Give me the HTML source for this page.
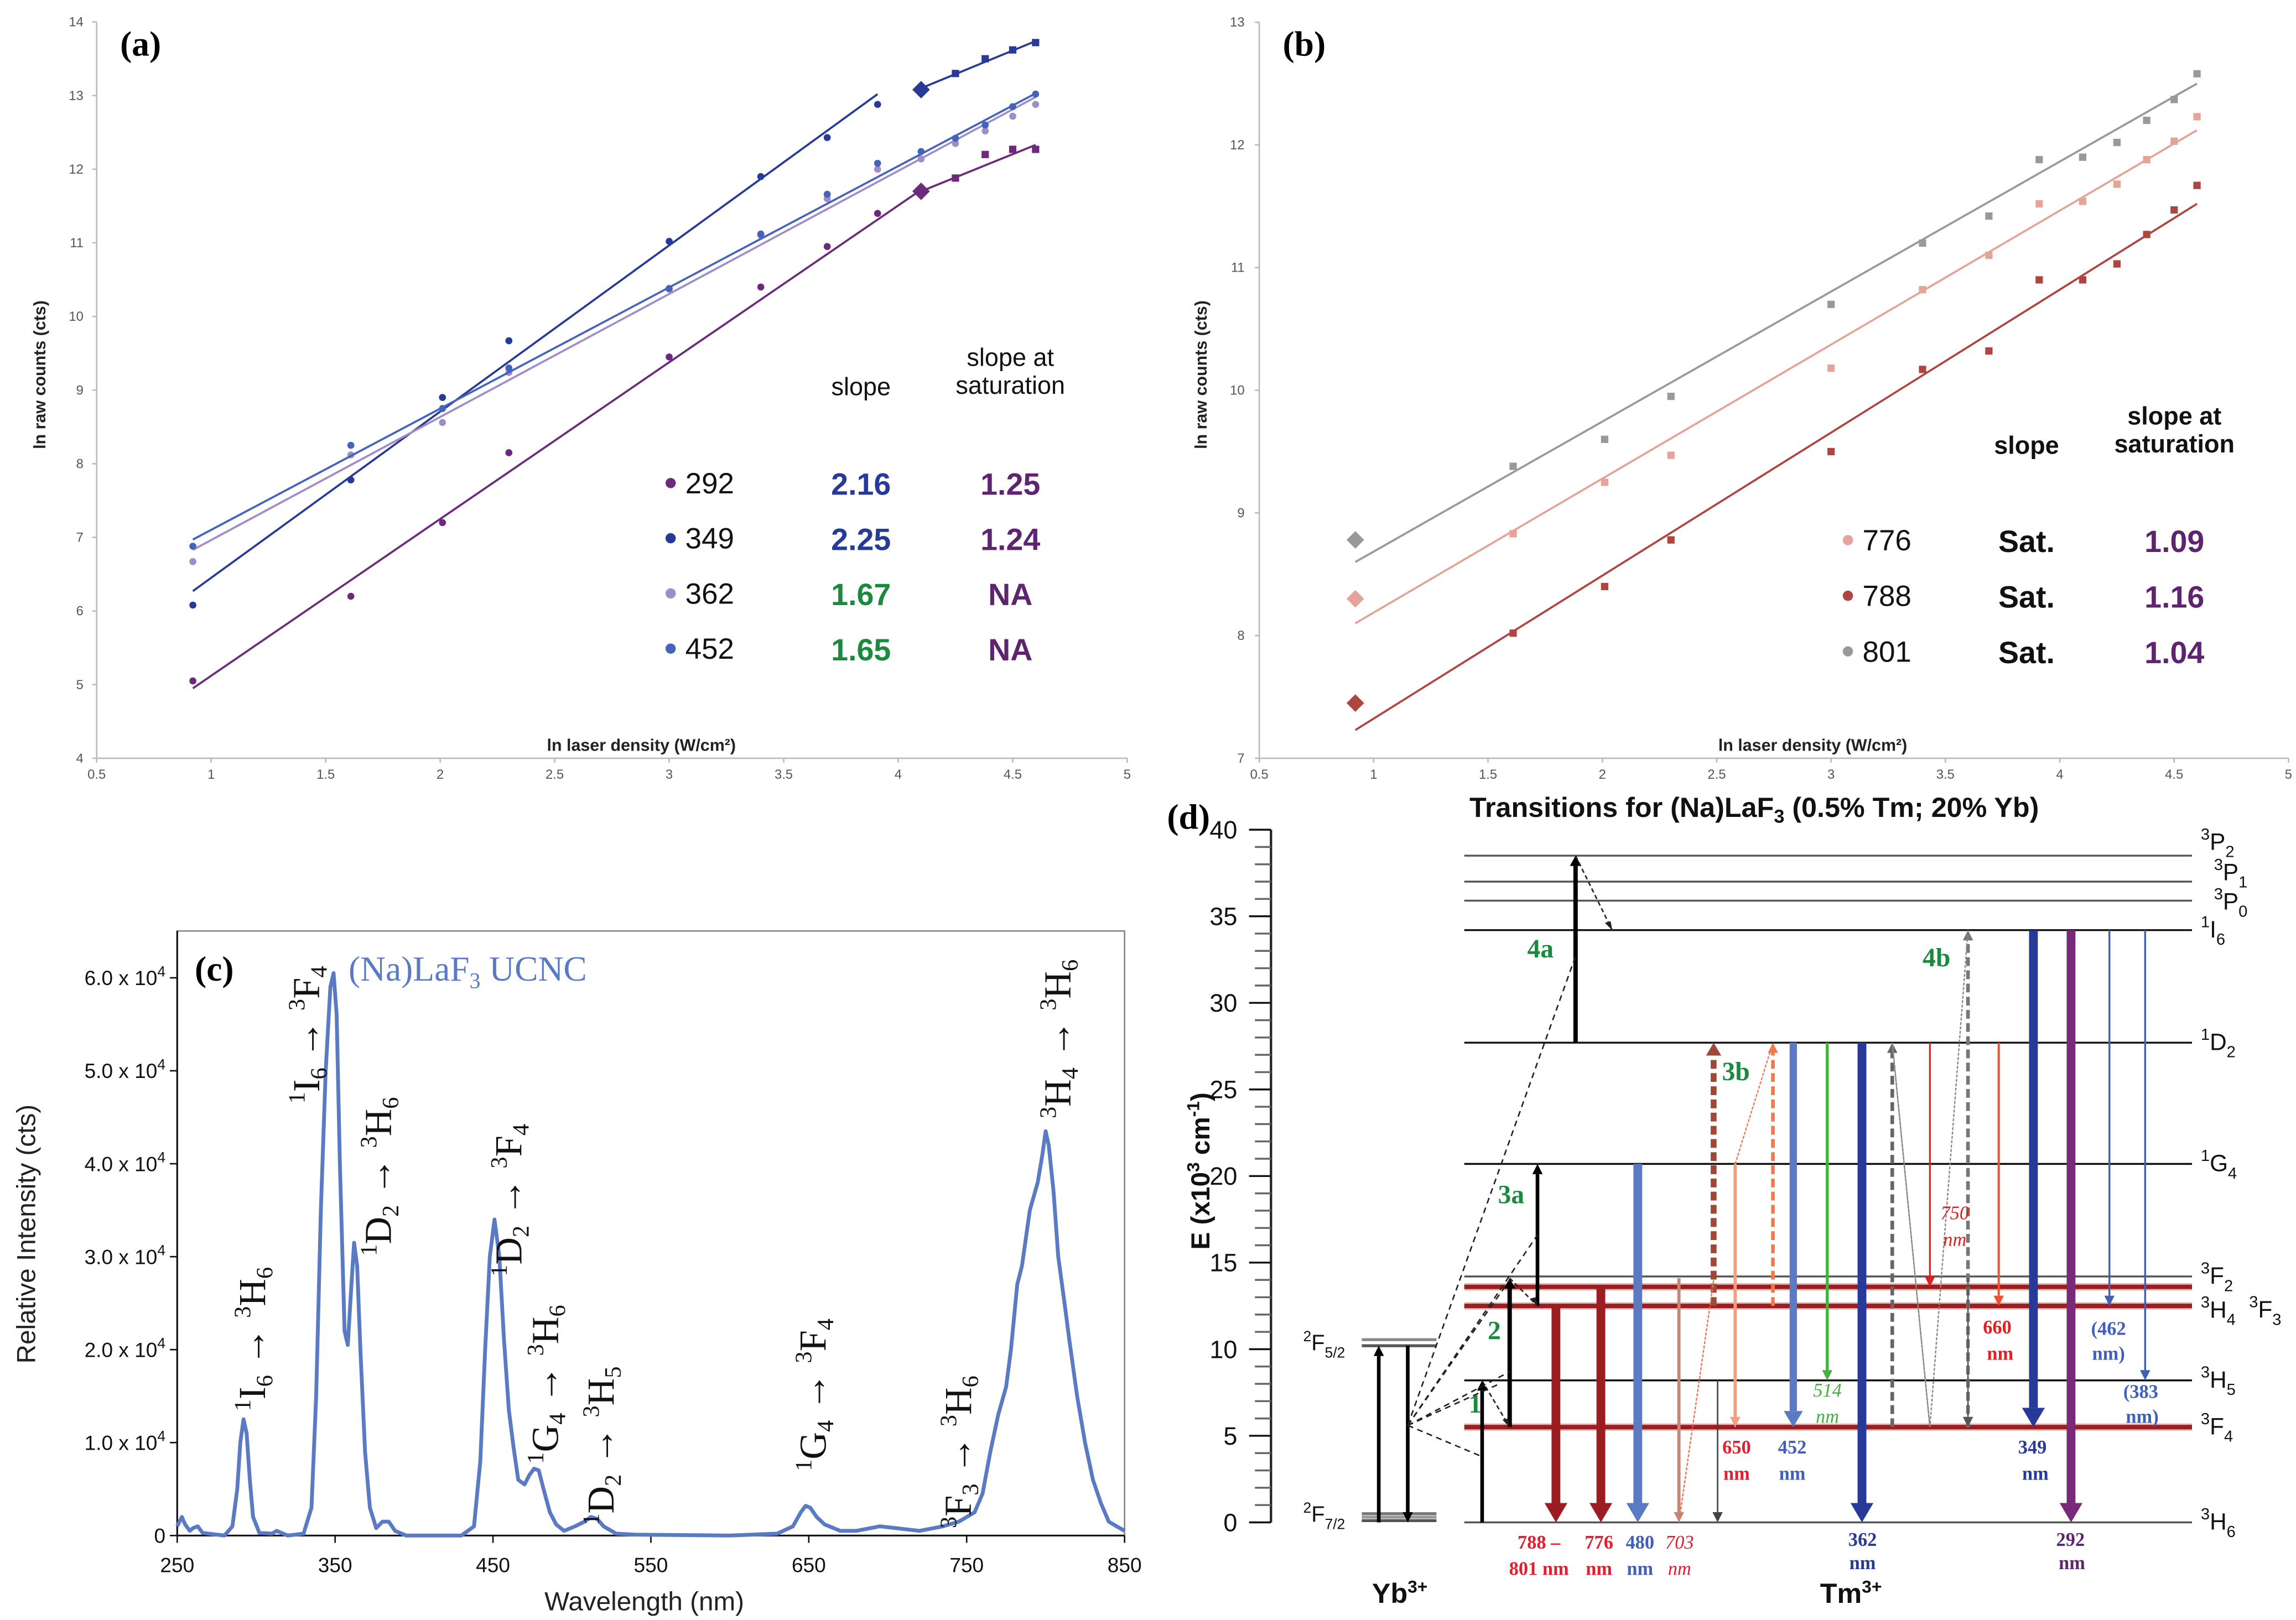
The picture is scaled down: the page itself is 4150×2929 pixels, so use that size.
<!DOCTYPE html>
<html><head><meta charset="utf-8"><style>
html,body{margin:0;padding:0;background:#fff;}
svg{display:block;}
</style></head><body>
<svg id="fig" width="4150" height="2929" viewBox="0 0 1568 1106.7" xmlns="http://www.w3.org/2000/svg" font-family="Liberation Sans, DejaVu Sans, sans-serif">
<rect x="0" y="0" width="1568" height="1107" fill="#fff"/>
<g id="pa"></g>
<g id="pb"></g>
<g id="pc"></g>
<g id="pd"></g>
</svg>
<script>
// ---------- Panel (a) data ----------
const aX = [0.92,1.61,2.01,2.3,3,3.4,3.69,3.91,4.1,4.25,4.38,4.5,4.6];
const a292 = [5.05,6.2,7.2,8.15,9.45,10.4,10.95,11.4,11.7,11.88,12.2,12.27,12.27];
const a349 = [6.08,7.78,8.9,9.67,11.02,11.9,12.43,12.88,13.08,13.3,13.5,13.62,13.72];
const a362 = [6.67,8.12,8.56,9.24,10.37,11.1,11.6,12.0,12.14,12.35,12.52,12.72,12.88];
const a452 = [6.88,8.25,8.75,9.3,10.38,11.12,11.66,12.08,12.24,12.42,12.6,12.85,13.02];
const aFit292 = [[0.92,4.95],[4.1,11.72]];
const aSat292 = [[4.1,11.7],[4.6,12.33]];
const aFit349 = [[0.92,6.27],[3.91,13.02]];
const aSat349 = [[4.1,13.1],[4.6,13.74]];
const aFit362 = [[0.92,6.83],[4.6,12.98]];
const aFit452 = [[0.92,6.97],[4.6,13.03]];
const aLegendNames = ["292","349","362","452"];
const aSlopes = ["2.16","2.25","1.67","1.65"];
const aSatSlopes = ["1.25","1.24","NA","NA"];
const aXTicks = [0.5,1,1.5,2,2.5,3,3.5,4,4.5,5];
const aYTicks = [4,5,6,7,8,9,10,11,12,13,14];
// ---------- Panel (b) data ----------
const bX = [0.92,1.61,2.01,2.3,3,3.4,3.69,3.91,4.1,4.25,4.38,4.5,4.6];
const b801 = [8.78,9.38,9.6,9.95,10.7,11.2,11.42,11.88,11.9,12.02,12.2,12.37,12.58];
const b776 = [8.3,8.83,9.25,9.47,10.18,10.82,11.1,11.52,11.54,11.68,11.88,12.03,12.23];
const b788 = [7.45,8.02,8.4,8.78,9.5,10.17,10.32,10.9,10.9,11.03,11.27,11.47,11.67];
const bFit801 = [[0.92,8.6],[4.6,12.5]];
const bFit776 = [[0.92,8.1],[4.6,12.12]];
const bFit788 = [[0.92,7.23],[4.6,11.52]];
const bLegendNames = ["776","788","801"];
const bSlopes = ["Sat.","Sat.","Sat."];
const bSatSlopes = ["1.09","1.16","1.04"];
const bXTicks = [0.5,1,1.5,2,2.5,3,3.5,4,4.5,5];
const bYTicks = [7,8,9,10,11,12,13];
// ---------- Panel (c) data ----------
const cWl = [250,253,255,258,260,263,266,270,280,285,288,290,292,294,296,298,302,310,313,320,330,335,338,341,344,347,349,351,353,356,358,360,362,364,366,369,372,376,380,384,388,395,430,438,442,445,448,451,454,457,460,463,466,470,473,476,479,482,486,490,495,502,508,512,516,520,528,540,600,630,640,645,648,651,655,660,670,680,695,705,720,735,745,750,755,760,765,770,775,778,782,785,790,795,798,800,802,805,808,812,815,820,825,830,835,840,845,850];
const cInt = [0.1,0.2,0.12,0.05,0.08,0.1,0.03,0.02,0.0,0.1,0.5,1.0,1.25,1.1,0.6,0.2,0.03,0.02,0.05,0.0,0.02,0.3,1.5,3.5,5.0,5.9,6.05,5.6,4.0,2.2,2.05,2.6,3.15,2.9,2.0,0.9,0.3,0.08,0.15,0.15,0.05,0.0,0.0,0.1,0.8,2.0,3.0,3.4,3.0,2.1,1.35,0.95,0.6,0.55,0.65,0.72,0.7,0.5,0.25,0.12,0.05,0.1,0.15,0.2,0.18,0.1,0.02,0.01,0.0,0.02,0.1,0.25,0.32,0.3,0.2,0.12,0.05,0.05,0.1,0.08,0.05,0.1,0.15,0.2,0.25,0.45,0.9,1.3,1.6,2.0,2.7,2.9,3.5,3.8,4.1,4.35,4.2,3.7,3.0,2.5,2.1,1.5,1.0,0.6,0.35,0.15,0.1,0.05];
const cXTicks = [250,350,450,550,650,750,850];
const cYTicks = [0,1,2,3,4,5,6];
// ---------- Panel (d) data ----------
const dLevelE = [38.5,37.0,35.9,34.2,27.7,20.7,14.2,13.6,12.5,8.2,5.5,0];
const dLevelNames = ["3P2","3P1","3P0","1I6","1D2","1G4","3F2","3F3","3H4","3H5","3F4","3H6"];
const dYTicks = [0,5,10,15,20,25,30,35,40];

const NS="http://www.w3.org/2000/svg";
function el(tag, parent, attrs){const e=document.createElementNS(NS,tag);for(const k in attrs)e.setAttribute(k,attrs[k]);parent.appendChild(e);return e;}
function txt(parent, x, y, s, attrs){const t=el('text',parent,Object.assign({x:x,y:y},attrs||{}));t.textContent=s;return t;}

// ===== Panel (a) =====
(function(){
const g=document.getElementById('pa');
const X=v=>66+(v-0.5)*156.4, Y=v=>518-(v-4)*50.3;
const ax=el('path',g,{d:`M66,15 V518 H770`,stroke:'#bbb','stroke-width':1,fill:'none'});


aXTicks.forEach(v=>{const t=txt(g,X(v),532,String(v),{'font-size':9,fill:'#555','text-anchor':'middle'});


el('line',g,{x1:X(v),x2:X(v),y1:518,y2:521,stroke:'#bbb'});});
aYTicks.forEach(v=>{const t=txt(g,57,Y(v)+3,String(v),{'font-size':9,fill:'#555','text-anchor':'end'});


el('line',g,{x1:63,x2:66,y1:Y(v),y2:Y(v),stroke:'#bbb'});});
let t=txt(g,0,0,'ln raw counts (cts)',{'font-size':11.5,'font-weight':'bold',fill:'#222','text-anchor':'middle',transform:'translate(31,256) rotate(-90)'});


t=txt(g,438,513,'ln laser density (W/cm²)',{'font-size':11.5,'font-weight':'bold',fill:'#222','text-anchor':'middle'});


t=txt(g,82,38,'(a)',{'font-size':24,'font-weight':'bold','font-family':'Liberation Serif, serif'});


const series=[[a292,'#6d2a7d',aFit292,aSat292],[a349,'#283a98',aFit349,aSat349],[a362,'#a08cc8',aFit362,null],[a452,'#4563bb',aFit452,null]];
series.forEach((s,i)=>{
 [s[2],s[3]].forEach(f=>{if(!f)return;const l=el('line',g,{x1:X(f[0][0]),y1:Y(f[0][1]),x2:X(f[1][0]),y2:Y(f[1][1]),stroke:s[1],'stroke-width':1.4});
 
 });
 s[0].forEach((v,j)=>{let m;const sat=(i<2&&aX[j]>=4.1);
  if(sat&&aX[j]===4.1){m=el('path',g,{d:`M${X(aX[j])},${Y(v)-6} l6,6 l-6,6 l-6,-6z`,fill:s[1]});}
  else if(sat){m=el('rect',g,{x:X(aX[j])-2.5,y:Y(v)-2.5,width:5,height:5,fill:s[1]});}
  else{m=el('circle',g,{cx:X(aX[j]),cy:Y(v),r:2.4,fill:s[1]});}
  
  });
});
t=txt(g,588,270,'slope',{'font-size':17,'text-anchor':'middle',fill:'#111'});


t=txt(g,690,250,'slope at',{'font-size':17,'text-anchor':'middle',fill:'#111'});


txt(g,690,269,'saturation',{'font-size':17,'text-anchor':'middle',fill:'#111'});
const slopeCol=['#283a98','#283a98','#1a8a3e','#1a8a3e'];
aLegendNames.forEach((n,i)=>{const y=330+i*37.7;
 const c=el('circle',g,{cx:458,cy:y,r:3.5,fill:series[i][1]});
 
 
 let tt=txt(g,468,y+7,n,{'font-size':20,fill:'#111'});
 
 
 tt=txt(g,588,y+8,aSlopes[i],{'font-size':21,'font-weight':'bold','text-anchor':'middle',fill:slopeCol[i]});
 
 
 tt=txt(g,690,y+8,aSatSlopes[i],{'font-size':21,'font-weight':'bold','text-anchor':'middle',fill:'#5e2470'});
 
 });
})();

// ===== Panel (b) =====
(function(){
const g=document.getElementById('pb');
const X=v=>860+(v-0.5)*156.2, Y=v=>518-(v-7)*83.8;
const ax=el('path',g,{d:`M860,15 V518 H1563`,stroke:'#bbb','stroke-width':1,fill:'none'});


bXTicks.forEach(v=>{const t=txt(g,X(v),532,String(v),{'font-size':9,fill:'#555','text-anchor':'middle'});


el('line',g,{x1:X(v),x2:X(v),y1:518,y2:521,stroke:'#bbb'});});
bYTicks.forEach(v=>{const t=txt(g,850,Y(v)+3,String(v),{'font-size':9,fill:'#555','text-anchor':'end'});


el('line',g,{x1:857,x2:860,y1:Y(v),y2:Y(v),stroke:'#bbb'});});
let t=txt(g,0,0,'ln raw counts (cts)',{'font-size':11.5,'font-weight':'bold',fill:'#222','text-anchor':'middle',transform:'translate(824,256) rotate(-90)'});


t=txt(g,1238,513,'ln laser density (W/cm²)',{'font-size':11.5,'font-weight':'bold',fill:'#222','text-anchor':'middle'});


t=txt(g,876,38,'(b)',{'font-size':24,'font-weight':'bold','font-family':'Liberation Serif, serif'});


const series=[[b776,'#e6a39a',bFit776],[b788,'#ad4540',bFit788],[b801,'#999999',bFit801]];
series.forEach((s,i)=>{
 const f=s[2];const l=el('line',g,{x1:X(f[0][0]),y1:Y(f[0][1]),x2:X(f[1][0]),y2:Y(f[1][1]),stroke:s[1],'stroke-width':1.4});
 
 
 s[0].forEach((v,j)=>{let m;
  if(j===0){m=el('path',g,{d:`M${X(bX[j])},${Y(v)-6} l6,6 l-6,6 l-6,-6z`,fill:s[1]});}
  else{m=el('rect',g,{x:X(bX[j])-2.5,y:Y(v)-2.5,width:5,height:5,fill:s[1]});}
  
  });
});
t=txt(g,1384,310,'slope',{'font-size':17,'font-weight':'bold','text-anchor':'middle',fill:'#111'});


t=txt(g,1485,290,'slope at',{'font-size':17,'font-weight':'bold','text-anchor':'middle',fill:'#111'});


txt(g,1485,309,'saturation',{'font-size':17,'font-weight':'bold','text-anchor':'middle',fill:'#111'});
bLegendNames.forEach((n,i)=>{const y=369+i*38;
 const c=el('circle',g,{cx:1262,cy:y,r:3.5,fill:series[i][1]});
 
 
 let tt=txt(g,1272,y+7,n,{'font-size':20,fill:'#111'});
 
 
 tt=txt(g,1384,y+8,bSlopes[i],{'font-size':21,'font-weight':'bold','text-anchor':'middle',fill:'#111'});
 
 
 tt=txt(g,1485,y+8,bSatSlopes[i],{'font-size':21,'font-weight':'bold','text-anchor':'middle',fill:'#5e2470'});
 
 });
})();

// ===== Panel (c) =====
(function(){
const g=document.getElementById('pc');
const X=v=>121+(v-250)*(647/600), Y=v=>1049-v*63.5;
const box=el('rect',g,{x:121,y:636,width:647,height:413,fill:'none',stroke:'#888','stroke-width':1});


el('line',g,{x1:121,x2:768,y1:1049,y2:1049,stroke:'#111','stroke-width':1.2});
el('line',g,{x1:121,x2:121,y1:636,y2:1049,stroke:'#111','stroke-width':1.2});
cXTicks.forEach(v=>{el('line',g,{x1:X(v),x2:X(v),y1:1049,y2:1054,stroke:'#111'});
 const t=txt(g,X(v),1074,String(v),{'font-size':14,fill:'#111','text-anchor':'middle'});
 
 });
cYTicks.forEach(v=>{el('line',g,{x1:116,x2:121,y1:Y(v),y2:Y(v),stroke:'#111'});
 const t=el('text',g,{x:113,y:Y(v)+5,'font-size':14,fill:'#111','text-anchor':'end'});
 
 
 if(v===0){t.textContent='0';}else{t.textContent=v.toFixed(1)+' x 10';const s=el('tspan',t,{dy:-6,'font-size':10});s.textContent='4';}});
let t=txt(g,440,1100,'Wavelength (nm)',{'font-size':18,fill:'#222','text-anchor':'middle'});


t=txt(g,0,0,'Relative Intensity (cts)',{'font-size':18,fill:'#222','text-anchor':'middle',transform:'translate(24,843) rotate(-90)'});


let d='';cWl.forEach((w,i)=>{d+=(i?'L':'M')+X(w).toFixed(1)+','+Y(cInt[i]).toFixed(1);});
const p=el('path',g,{d:d,fill:'none',stroke:'#5a7bc4','stroke-width':2.6,'stroke-linejoin':'round'});


t=txt(g,133,670,'(c)',{'font-size':24,'font-weight':'bold','font-family':'Liberation Serif, serif'});


t=el('text',g,{x:238,y:670,'font-size':24,fill:'#5a7bc4','font-family':'Liberation Serif, serif'});


t.innerHTML='(Na)LaF<tspan dy="5" font-size="15">3</tspan><tspan dy="-5"> UCNC</tspan>';
const labels=[[181,964,'1','I','6','3','H','6'],[218,754,'1','I','6','3','F','4'],[267,858,'1','D','2','3','H','6'],[356,872,'1','D','2','3','F','4'],[381,1000,'1','G','4','3','H','6'],[419,1042,'1','D','2','3','H','5'],[564,1005,'1','G','4','3','F','4'],[663,1044,'3','F','3','3','H','6'],[731,764,'3','H','4','3','H','6']];
labels.forEach(L=>{const tt=el('text',g,{x:0,y:0,'font-size':26,fill:'#111','font-family':'Liberation Serif, serif',transform:`translate(${L[0]},${L[1]}) rotate(-90)`});
 
 
 tt.innerHTML=`<tspan dy="-10" font-size="16">${L[2]}</tspan><tspan dy="10">${L[3]}</tspan><tspan dy="5" font-size="16">${L[4]}</tspan><tspan dy="-5"> → </tspan><tspan dy="-10" font-size="16">${L[5]}</tspan><tspan dy="10">${L[6]}</tspan><tspan dy="5" font-size="16">${L[7]}</tspan>`;});
})();

// ===== Panel (d) =====
(function(){
const g=document.getElementById('pd');
const Y=v=>1040-v*11.83;
const L0=1000,L1=1497;
let t=txt(g,1198,558,'',{'font-size':19,'font-weight':'bold','text-anchor':'middle',fill:'#111'});


t.innerHTML='Transitions for (Na)LaF<tspan dy="4" font-size="13">3</tspan><tspan dy="-4"> (0.5% Tm; 20% Yb)</tspan>';
t=txt(g,797,566,'(d)',{'font-size':24,'font-weight':'bold','font-family':'Liberation Serif, serif'});


const ax=el('line',g,{x1:868,x2:868,y1:Y(40),y2:Y(0),stroke:'#222','stroke-width':1.6});


for(let e=0;e<=40;e++){el('line',g,{x1:e%5?857:853,x2:868,y1:Y(e),y2:Y(e),stroke:e%5?'#666':'#111','stroke-width':1.3});}
dYTicks.forEach(v=>{const tt=txt(g,845,Y(v)+6,String(v),{'font-size':17,'text-anchor':'end',fill:'#111'});
 
 });
t=el('text',g,{x:0,y:0,'font-size':18,'font-weight':'bold',fill:'#111','text-anchor':'middle',transform:'translate(826,800) rotate(-90)'});


t.innerHTML='E (x10<tspan dy="-7" font-size="12">3</tspan><tspan dy="7"> cm</tspan><tspan dy="-7" font-size="12">-1</tspan><tspan dy="7">)</tspan>';
dLevelE.forEach((e,i)=>{const n=dLevelNames[i];const thick=(n==='3F3'||n==='3H4'||n==='3F4');const gray=(i<3||n==='3F2'||n==='3H6');
 if(thick){el('line',g,{x1:L0,x2:L1,y1:Y(e),y2:Y(e),stroke:'#e0b8b0','stroke-width':5});}
 const l=el('line',g,{x1:L0,x2:L1,y1:Y(e),y2:Y(e),stroke:thick?'#9b1d22':(gray?'#555':'#111'),'stroke-width':thick?3:1.3});
 
 
 if(n==='3F3'){const tt=el('text',g,{x:1536,y:Y(e)+21,'font-size':16,fill:'#111'});
  
  
  tt.innerHTML=`<tspan dy="-7" font-size="11">3</tspan><tspan dy="7">F</tspan><tspan dy="5" font-size="11">3</tspan>`;return;}
 const dy={'3P2':-4,'3P1':-1,'3P0':6,'1I6':5,'3H4':8,'3F2':0}[n]||5;
 const tt=el('text',g,{x:n==='3P1'||n==='3P0'?1512:1503,y:Y(e)+dy,'font-size':16,fill:'#111'});
 
 
 tt.innerHTML=`<tspan dy="-7" font-size="11">${n[0]}</tspan><tspan dy="7">${n[1]}</tspan><tspan dy="5" font-size="11">${n[2]}</tspan>`;});
[[10.2,'#555'],[10.55,'#888'],[0.1,'#555'],[0.3,'#999'],[0.5,'#777']].forEach(a=>{const l=el('line',g,{x1:930,x2:981,y1:Y(a[0]),y2:Y(a[0]),stroke:a[1],'stroke-width':2});
 
 });
t=el('text',g,{x:890,y:Y(10.2)+3,'font-size':15,fill:'#111'});


t.innerHTML='<tspan dy="-6" font-size="10">2</tspan><tspan dy="6">F</tspan><tspan dy="5" font-size="10">5/2</tspan>';
t=el('text',g,{x:890,y:Y(0.3)+3,'font-size':15,fill:'#111'});


t.innerHTML='<tspan dy="-6" font-size="10">2</tspan><tspan dy="6">F</tspan><tspan dy="5" font-size="10">7/2</tspan>';
t=el('text',g,{x:937,y:1095,'font-size':19,'font-weight':'bold',fill:'#111'});


t.innerHTML='Yb<tspan dy="-7" font-size="12">3+</tspan>';
t=el('text',g,{x:1243,y:1095,'font-size':19,'font-weight':'bold',fill:'#111'});


t.innerHTML='Tm<tspan dy="-7" font-size="12">3+</tspan>';
function arrow(x,e0,e1,col,w,dash,name){const y0=Y(e0),y1=Y(e1);const dir=y1>y0?1:-1;const hl=Math.max(7,w*2.2),hw=Math.max(3.5,w*1.3);
 const gg=el('g',g,{});
 
 
 el('line',gg,{x1:x,x2:x,y1:y0,y2:y1-dir*hl,stroke:col,'stroke-width':w,'stroke-dasharray':dash?'6,3':'none'});
 el('path',gg,{d:`M${x-hw},${y1-dir*hl} L${x+hw},${y1-dir*hl} L${x},${y1}z`,fill:col});}
arrow(941.6,0,10.2,'#000',2.5,false,'yb-absorption-arrow');
arrow(961.4,10.2,0,'#000',2.5,false,'yb-emission-arrow');
arrow(1012.2,0,8.2,'#000',2.5,false,'step-1-arrow');
arrow(1031,5.5,14.1,'#000',3,false,'step-2-arrow');
arrow(1050,12.5,20.7,'#000',2.5,false,'step-3a-arrow');
arrow(1076,27.7,38.5,'#000',3,false,'step-4a-arrow');
arrow(1062.6,12.5,0,'#9b1d22',6,false,'arrow-788-801nm');
arrow(1093.3,13.6,0,'#9b1d22',6,false,'arrow-776nm');
arrow(1118.5,20.7,0,'#5a7bc4',6,false,'arrow-480nm');
arrow(1146.6,14.1,0,'#c08878',2.2,false,'arrow-703nm');
arrow(1173,8.2,0,'#444',1,false,'arrow-gray-3h5');
arrow(1170.3,12.5,27.7,'#9c4a38',4,true,'step-3b-arrow');
arrow(1185,20.7,5.5,'#f0a080',2.2,false,'arrow-650nm');
arrow(1210.8,12.5,27.7,'#f07a50',2.5,true,'arrow-orange-dashed');
arrow(1224.7,27.7,5.5,'#5a7bc4',5,false,'arrow-452nm');
arrow(1247.9,27.7,8.2,'#44b040',2,false,'arrow-514nm');
arrow(1271.6,27.7,0,'#283a98',6,false,'arrow-362nm');
arrow(1292.3,5.5,27.7,'#666',2.5,true,'arrow-gray-dashed-up');
arrow(1318,27.7,13.6,'#e02020',1.2,false,'arrow-750nm');
arrow(1344,5.5,34.2,'#777',2.5,true,'step-4b-arrow');
arrow(1344,14.1,5.5,'#555',1,false,'arrow-gray-3f2');
arrow(1365,27.7,12.5,'#f05030',1.5,false,'arrow-660nm');
arrow(1388.7,34.2,5.5,'#283a98',6,false,'arrow-349nm');
arrow(1414.4,34.2,0,'#7a2878',6,false,'arrow-292nm');
arrow(1440.6,34.2,12.5,'#4060b8',1.3,false,'arrow-462nm');
arrow(1465,34.2,8.2,'#4060b8',1.3,false,'arrow-383nm');
[[1146.6,0,1170.3,14,'#f07050'],[1185,5.5,1185,20.7,'#f0a080'],[1185,20.7,1210.8,27.7,'#f07a50'],[1292.3,27.7,1318,5.5,'#888'],[1344,34.2,1318,5.5,'#888'],[1318,5.5,1292.3,27.7,'#888']].forEach(a=>{
 const l=el('line',g,{x1:a[0],y1:Y(a[1]),x2:a[2],y2:Y(a[3]),stroke:a[4],'stroke-width':0.9,'stroke-dasharray':'2,1'});
 
 });
const ox=961.4,oy=Y(5.6);
[[1012,Y(3.8)],[1031,Y(8.7)],[1050,Y(16.6)],[1076,Y(32.7)],[1024,Y(8)],[1031,Y(14)]].forEach(p=>{
 const l=el('line',g,{x1:ox,y1:oy,x2:p[0],y2:p[1],stroke:'#222','stroke-width':1,'stroke-dasharray':'4,3'});
 
 });
[[1012,Y(8.2),1031,Y(5.5)],[1031,Y(14.1),1050,Y(12.5)],[1076,Y(38.5),1101,Y(34.2)]].forEach(p=>{
 const l=el('line',g,{x1:p[0],y1:p[1],x2:p[2],y2:p[3],stroke:'#222','stroke-width':1,'stroke-dasharray':'3,2'});
 
 
 el('path',g,{d:`M${p[2]},${p[3]} l-5,-5 l4,-1z`,fill:'#222'});});
[['1',1003,965],['2',1016,915],['3a',1023,822],['3b',1176,738],['4a',1043,654],['4b',1313,660]].forEach(s=>{
 const tt=txt(g,s[1],s[2],s[0],{'font-size':18,'font-weight':'bold',fill:'#1a8a3e','font-family':'Liberation Serif, serif'});
 
 });
const wl=[[1051,1058,'788 –','#e02030',false],[1051,1076,'801 nm','#e02030',false],[1092,1058,'776','#e02030',false],[1092,1076,'nm','#e02030',false],[1120,1058,'480','#4060b8',false],[1120,1076,'nm','#4060b8',false],[1147,1058,'703','#e02030',true],[1147,1076,'nm','#e02030',true],
[1186,993,'650','#e02030',false],[1186,1011,'nm','#e02030',false],[1224,993,'452','#4060b8',false],[1224,1011,'nm','#4060b8',false],[1248,954,'514','#44b040',true],[1248,972,'nm','#44b040',true],
[1272,1056,'362','#283a98',false],[1272,1072,'nm','#283a98',false],[1335,833,'750','#e02020',true],[1335,851,'nm','#e02020',true],[1364,911,'660','#e02020',false],[1366,929,'nm','#e02020',false],
[1388,993,'349','#283a98',false],[1390,1011,'nm','#283a98',false],[1414,1056,'292','#5e2470',false],[1415,1072,'nm','#5e2470',false],[1440,912,'(462','#4060b8',false],[1440,929,'nm)','#4060b8',false],[1462,955,'(383','#4060b8',false],[1463,972,'nm)','#4060b8',false]];
wl.forEach(w=>{const tt=txt(g,w[0],w[1],w[2],{'font-size':13,'font-weight':w[4]?'normal':'bold','font-style':w[4]?'italic':'normal',fill:w[3],'text-anchor':'middle','font-family':'Liberation Serif, serif'});
 
 });
})();
</script>
</body></html>
